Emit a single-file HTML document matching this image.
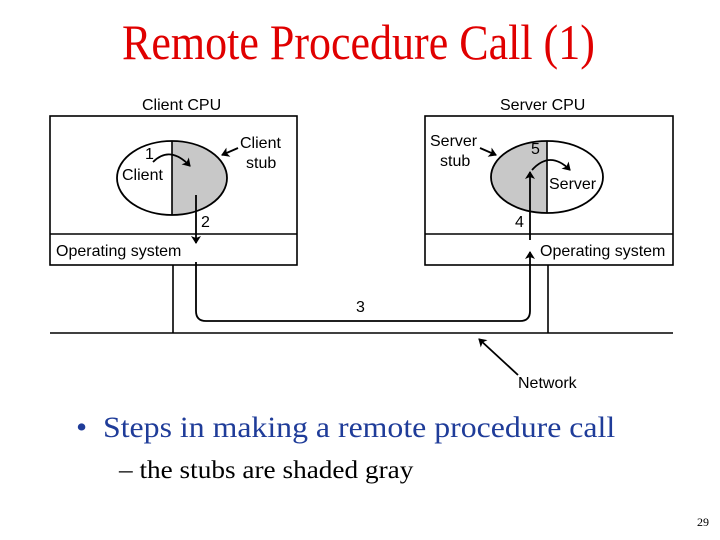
<!DOCTYPE html>
<html><head><meta charset="utf-8"><style>
html,body{margin:0;padding:0;background:#fff;}
body{width:720px;height:540px;position:relative;overflow:hidden;}
.t{position:absolute;white-space:nowrap;transform-origin:0 0;}
</style></head><body>
<div class="t" style="left:122px;top:13px;font:50px 'Liberation Serif',serif;color:#e00000;transform:scaleX(0.88);">Remote Procedure Call (1)</div>
<svg width="720" height="540" style="position:absolute;left:0;top:0" font-family="Liberation Sans, sans-serif" font-size="16">
<defs><marker id="a" markerWidth="8" markerHeight="10" refX="7" refY="5" orient="auto" markerUnits="userSpaceOnUse"><path d="M0,0 L8,5 L0,10 L2,5 Z" fill="#000"/></marker></defs>
<g stroke="#000" stroke-width="1.6" fill="none">
<rect x="50" y="116" width="247" height="149"/>
<line x1="50" y1="234" x2="297" y2="234"/>
<rect x="425" y="116" width="248" height="149"/>
<line x1="425" y1="234" x2="673" y2="234"/>
<line x1="50" y1="333" x2="673" y2="333"/>
<line x1="173" y1="265" x2="173" y2="333"/>
<line x1="548" y1="265" x2="548" y2="333"/>
</g>
<path d="M172,141 A55,37 0 0,1 172,215 Z" fill="#c8c8c8"/>
<ellipse cx="172" cy="178" rx="55" ry="37" fill="none" stroke="#000" stroke-width="1.8"/>
<line x1="172" y1="141" x2="172" y2="215" stroke="#000" stroke-width="1.6"/>
<path d="M547,141 A56,36 0 0,0 547,213 Z" fill="#c8c8c8"/>
<ellipse cx="547" cy="177" rx="56" ry="36" fill="none" stroke="#000" stroke-width="1.8"/>
<line x1="547" y1="141" x2="547" y2="213" stroke="#000" stroke-width="1.6"/>
<g stroke="#000" stroke-width="1.8" fill="none">
<path d="M153,162 Q170,145 190,166" marker-end="url(#a)"/>
<path d="M196,195 L196,243" marker-end="url(#a)"/>
<path d="M196,262 L196,311 Q196,321 206,321 L520,321 Q530,321 530,311 L530,252" marker-end="url(#a)"/>
<path d="M530,240 L530,172" marker-end="url(#a)"/>
<path d="M532,170 Q550,150 570,170" marker-end="url(#a)"/>
<path d="M238,148 L222,155" marker-end="url(#a)"/>
<path d="M480,148 L496,155" marker-end="url(#a)"/>
<path d="M518,375 L479,339" marker-end="url(#a)"/>
</g>
<g fill="#000">
<text x="142" y="110">Client CPU</text>
<text x="500" y="110">Server CPU</text>
<text x="145" y="159">1</text>
<text x="122" y="180">Client</text>
<text x="240" y="148">Client</text>
<text x="246" y="168">stub</text>
<text x="201" y="227">2</text>
<text x="56" y="256">Operating system</text>
<text x="356" y="312">3</text>
<text x="430" y="146">Server</text>
<text x="440" y="166">stub</text>
<text x="531" y="154">5</text>
<text x="549" y="189">Server</text>
<text x="515" y="227">4</text>
<text x="540" y="256">Operating system</text>
<text x="518" y="388">Network</text>
</g>
</svg>
<div class="t" style="left:76px;top:411px;font:30px 'Liberation Serif',serif;color:#1f3c99;transform:scaleX(1.06);">•&nbsp; Steps in making a remote procedure call</div>
<div class="t" style="left:119px;top:457px;font:25px 'Liberation Serif',serif;color:#000;transform:scaleX(1.09);">– the stubs are shaded gray</div>
<div class="t" style="left:697px;top:515px;font:12px 'Liberation Serif',serif;color:#000;">29</div>
</body></html>
